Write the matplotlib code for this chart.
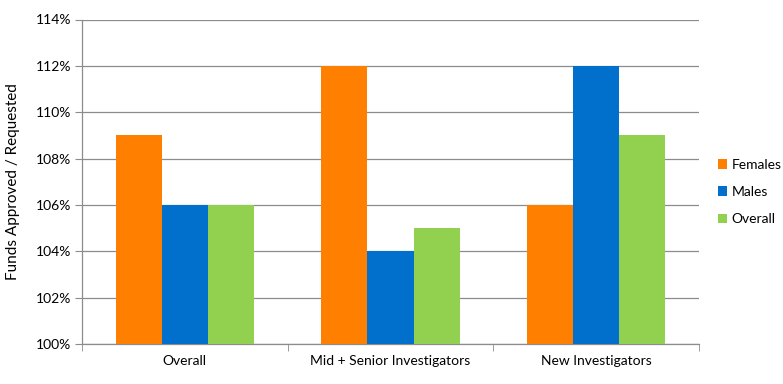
import matplotlib
matplotlib.use('Agg')
import matplotlib.pyplot as plt
import numpy as np

categories = ['Overall', 'Mid + Senior Investigators', 'New Investigators']
series = ['Females', 'Males', 'Overall']
females = [109, 112, 106]
males = [106, 104, 112]
overall = [106, 105, 109]
colors = ['#FF7F00', '#0070CC', '#92D050']

plt.rcParams['font.family'] = ['Lato', 'DejaVu Sans']

fig = plt.figure(figsize=(7.83, 3.84), dpi=100)
ax = fig.add_axes([82 / 783, 1 - 344 / 384, 617 / 783, (344 - 19.5) / 384])

x = np.arange(len(categories))
w = 0.224
for i, (name, vals) in enumerate(zip(series, [females, males, overall])):
    ax.bar(x + (i - 1) * w, np.array(vals) - 100, w, bottom=100,
           color=colors[i], label=name, zorder=3)

ax.set_xlim(-0.5, 2.5)
ax.set_ylim(100, 114)
ax.set_yticks(range(100, 115, 2))
ax.set_yticklabels(['%d%%' % v for v in range(100, 115, 2)], fontsize=10)
ax.yaxis.grid(True, color='#8c8c8c', linewidth=0.9, zorder=0)

ax.set_xticks(x)
ax.set_xticklabels(categories, fontsize=10)
ax.set_xticks([-0.5, 0.5, 1.5, 2.5], minor=True)
ax.tick_params(axis='x', which='major', length=0, pad=8)
ax.tick_params(axis='x', which='minor', length=5, color='#8c8c8c')
ax.tick_params(axis='y', length=5, color='#8c8c8c', pad=3)

for s in ['top', 'right']:
    ax.spines[s].set_visible(False)
for s in ['left', 'bottom']:
    ax.spines[s].set_color('#8c8c8c')
    ax.spines[s].set_linewidth(0.9)

ax.set_ylabel('Funds Approved / Requested', fontsize=11, labelpad=11)

ax.legend(loc='center left', bbox_to_anchor=(1.03, 0.468), frameon=False,
          fontsize=10, handlelength=0.7, handleheight=0.7, handletextpad=0.3,
          labelspacing=1.1, borderaxespad=0, borderpad=0)

fig.savefig('out.png', dpi=100)
